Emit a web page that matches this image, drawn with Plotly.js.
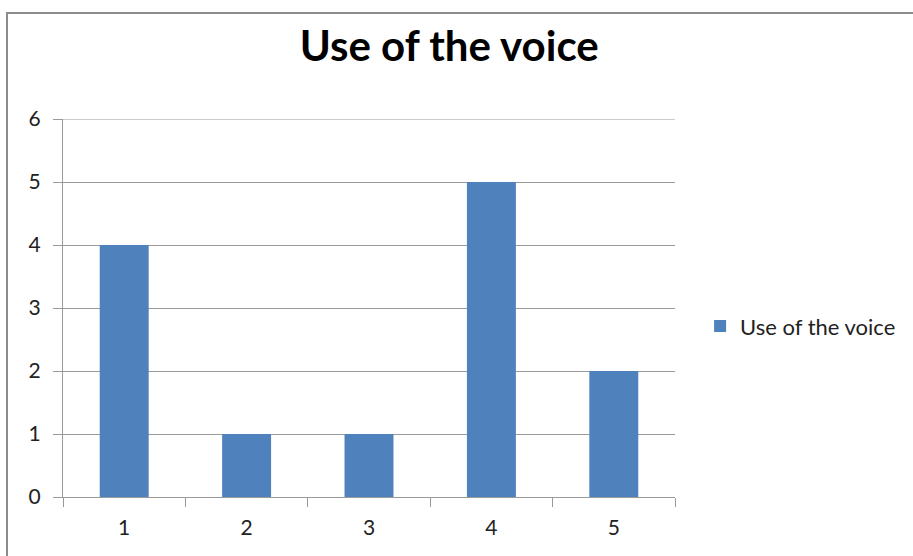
<!DOCTYPE html>
<html>
<head>
<meta charset="utf-8">
<script src="https://cdn.plot.ly/plotly-3.0.1.min.js"></script>
<style>
html,body{margin:0;padding:0;background:#fff;}
#wrap{position:relative;width:913px;height:556px;overflow:hidden;}
#chart{position:absolute;left:0;top:0;width:913px;height:556px;}
#frame{position:absolute;left:6px;top:12px;width:960px;height:600px;border-left:2px solid #8c8c8c;border-top:2px solid #8c8c8c;pointer-events:none;}
</style>
</head>
<body>
<div id="wrap"><div id="chart"></div><div id="frame"></div></div>
<script>
const categories = ["1", "2", "3", "4", "5"];
const values = [4, 1, 1, 5, 2];
const seriesName = "Use of the voice";
const chartTitle = "Use of the voice";
const yTicks = [0, 1, 2, 3, 4, 5, 6];

const FONT = "Lato, 'Open Sans', sans-serif";
const yMax = yTicks[yTicks.length - 1];

Plotly.newPlot("chart", [{
  type: "bar",
  x: categories,
  y: values,
  name: seriesName,
  marker: {color: "#4f81bd"},
  showlegend: true
}], {
  width: 913, height: 556,
  paper_bgcolor: "#fff", plot_bgcolor: "#fff",
  margin: {l: 63, r: 238, t: 119, b: 59},
  bargap: 0.6,
  title: {text: "<b>" + chartTitle + "</b>", font: {family: FONT, size: 42, color: "#000"}, x: 0.492, xanchor: "center", y: 0.917, yanchor: "middle"},
  font: {family: FONT, size: 21, color: "#222"},
  xaxis: {
    type: "category",
    tickson: "boundaries",
    ticks: "outside", ticklen: 9, tickcolor: "#9a9a9a", tickwidth: 1,
    showline: true, linecolor: "#9a9a9a", linewidth: 1,
    showgrid: false, zeroline: false,
    tickfont: {family: FONT, size: 21, color: "#222"},
    ticklabelstandoff: 12,
    range: [-0.5, 4.5]
  },
  yaxis: {
    range: [0, yMax], tickvals: yTicks,
    ticks: "outside", ticklen: 9, tickcolor: "#9a9a9a",
    showline: true, linecolor: "#9a9a9a", linewidth: 1,
    showgrid: true, gridcolor: "#9a9a9a", gridwidth: 1,
    zeroline: false,
    tickfont: {family: FONT, size: 21, color: "#222"},
    ticklabelstandoff: 8
  },
  shapes: [{type: "line", xref: "paper", yref: "y", x0: 0, x1: 1, y0: yMax, y1: yMax, line: {color: "#9a9a9a", width: 1}, layer: "below"}],
  legend: {x: 1.041, xanchor: "left", y: 0.452, yanchor: "middle", font: {family: FONT, size: 22, color: "#222"}, itemwidth: 30, bgcolor: "rgba(0,0,0,0)"}
}, {displayModeBar: false, staticPlot: true});
</script>
</body>
</html>
